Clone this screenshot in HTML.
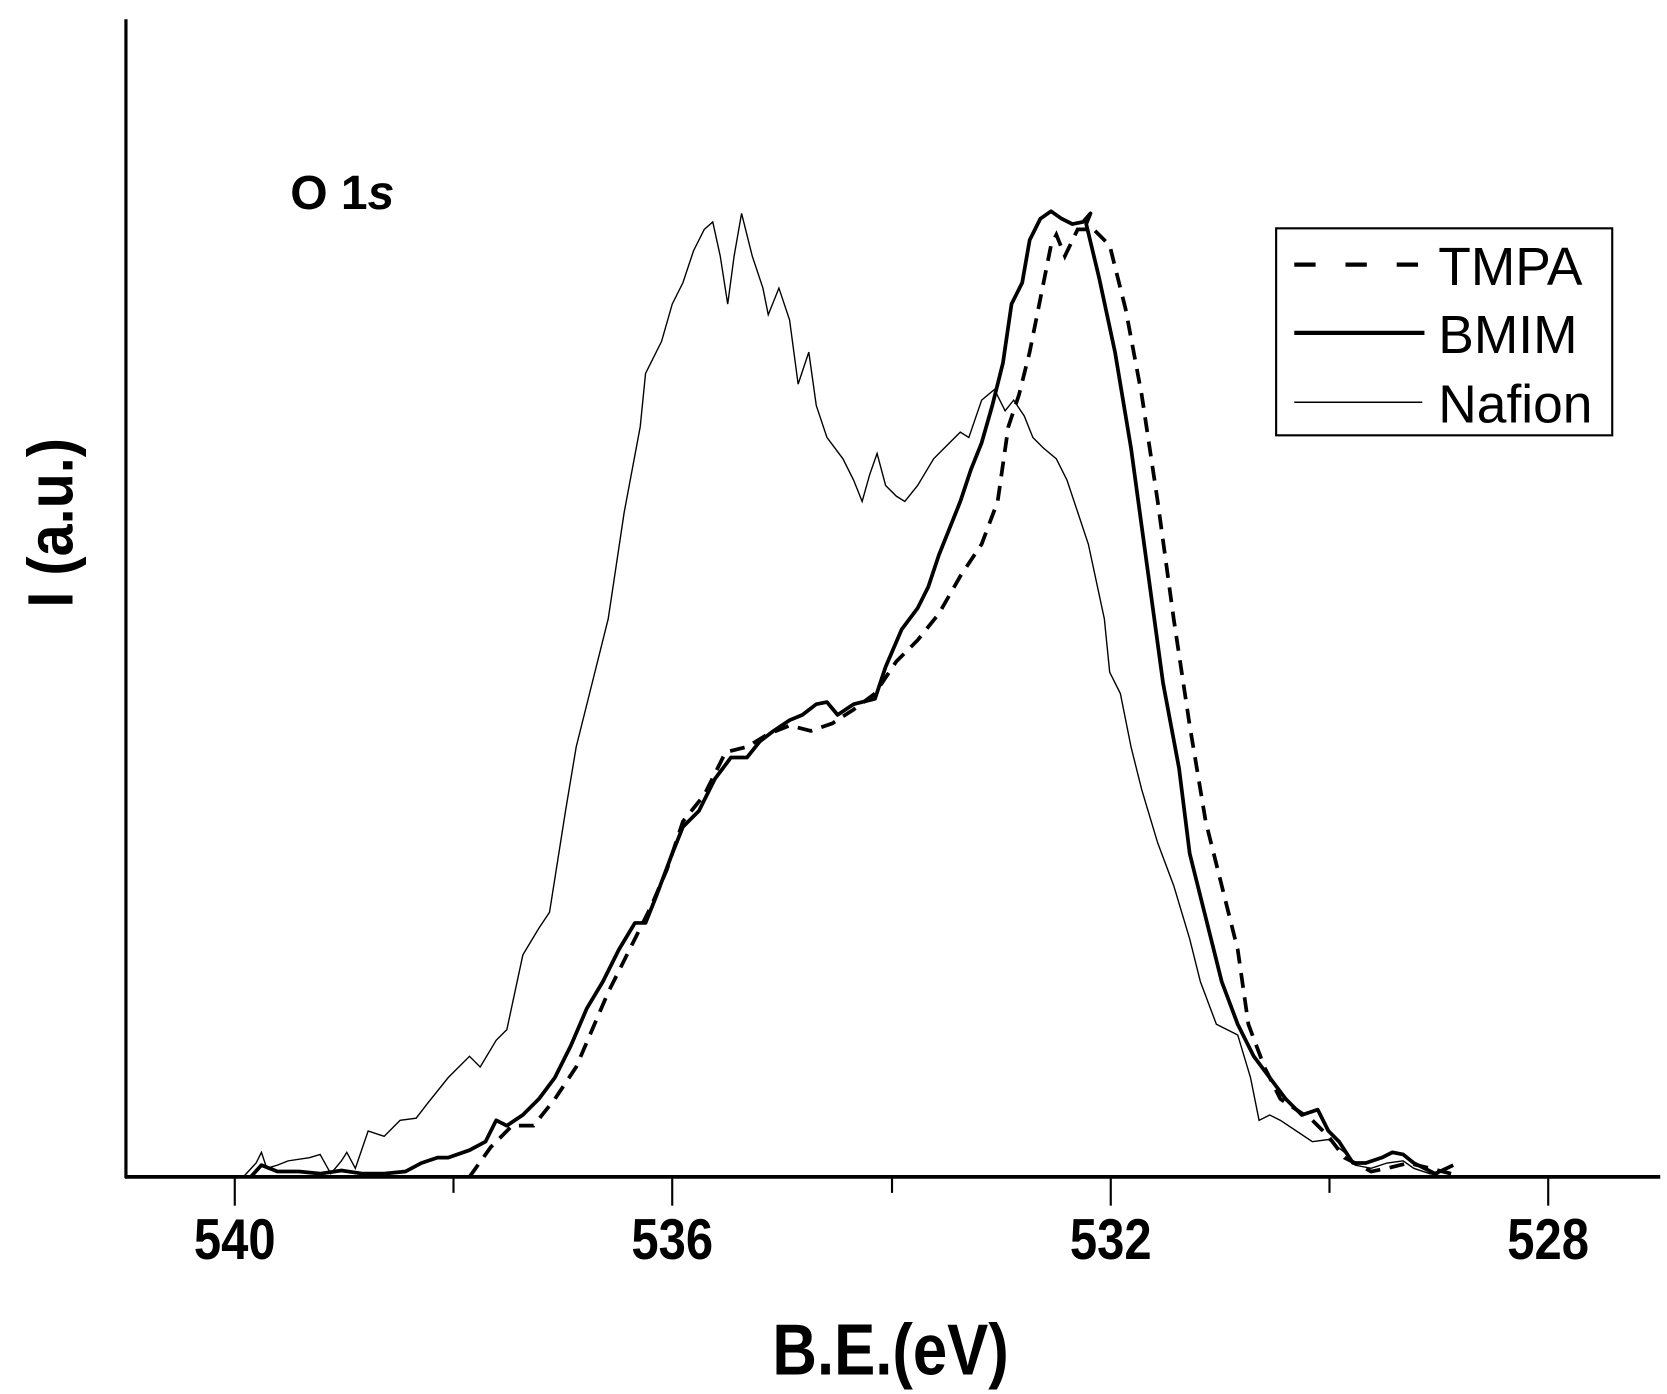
<!DOCTYPE html>
<html><head><meta charset="utf-8"><style>html,body{margin:0;padding:0;background:#fff;}svg{display:block;}</style></head>
<body>
<svg width="1667" height="1394" viewBox="0 0 1562.3 1306.5" xmlns="http://www.w3.org/2000/svg" font-family="Liberation Sans, Arial, sans-serif">
<rect width="1562.3" height="1306.5" fill="#fff"/>
<!-- axes -->
<line x1="118" y1="18" x2="118" y2="1104" stroke="#000" stroke-width="3"/>
<line x1="117" y1="1103" x2="1556" y2="1103" stroke="#000" stroke-width="3.5"/>
<g stroke="#000" stroke-width="2">
<line x1="220" y1="1103" x2="220" y2="1130"/><line x1="425" y1="1103" x2="425" y2="1118"/>
<line x1="630" y1="1103" x2="630" y2="1130"/><line x1="836" y1="1103" x2="836" y2="1118"/>
<line x1="1041" y1="1103" x2="1041" y2="1130"/><line x1="1246" y1="1103" x2="1246" y2="1118"/>
<line x1="1451" y1="1103" x2="1451" y2="1130"/>
</g>
<g font-size="54" font-weight="bold" text-anchor="middle" transform="scale(0.85,1)">
<text x="258.8" y="1180">540</text><text x="741.2" y="1180">536</text><text x="1224.7" y="1180">532</text><text x="1707" y="1180">528</text>
<text x="982" y="1288" font-size="68">B.E.(eV)</text>
</g>
<text transform="translate(68,490) rotate(-90) scale(0.9,1)" font-size="60" font-weight="bold" text-anchor="middle">I (a.u.)</text>
<text x="272" y="196" font-size="45" font-weight="bold">O 1<tspan font-style="italic">s</tspan></text>
<!-- legend -->
<rect x="1196" y="214" width="315" height="194" fill="none" stroke="#000" stroke-width="2"/>
<line x1="1213" y1="248" x2="1333" y2="248" stroke="#000" stroke-width="4" stroke-dasharray="20,28"/>
<line x1="1213" y1="312" x2="1335" y2="312" stroke="#000" stroke-width="4"/>
<line x1="1213" y1="377" x2="1333" y2="377" stroke="#000" stroke-width="1.5"/>
<g font-size="50"><text x="1348" y="267">TMPA</text><text x="1348" y="331">BMIM</text><text x="1348" y="396">Nafion</text></g>
<!-- Nafion -->
<polyline fill="none" stroke="#000" stroke-width="1.3" points="228,1103 240,1090 245,1080 250,1095 260,1092 270,1088 290,1085 300,1082 310,1100 320,1088 325,1080 333,1095 345,1060 360,1065 375,1050 390,1048 400,1035 420,1010 440,990 450,1000 465,975 475,965 490,895 505,870 515,855 530,760 540,700 555,640 570,580 585,480 600,400 605,350 620,320 630,285 640,265 650,235 660,215 668,208 675,240 682,285 688,240 695,200 705,240 715,270 720,295 730,270 740,300 748,360 758,330 765,380 775,410 790,430 800,450 808,470 815,445 822,425 830,455 840,465 848,470 860,455 875,430 890,415 900,405 908,410 920,375 932,365 942,385 950,375 960,390 968,410 978,420 990,430 1000,450 1010,480 1020,510 1035,580 1040,630 1050,650 1060,700 1070,740 1085,790 1100,830 1115,880 1125,920 1140,960 1160,970 1172,1010 1180,1050 1190,1045 1200,1050 1215,1060 1230,1070 1245,1068 1260,1080 1270,1092 1285,1095 1300,1090 1315,1088 1325,1095 1340,1100 1355,1103"/>
<!-- BMIM -->
<polyline fill="none" stroke="#000" stroke-width="3.5" stroke-linejoin="round" points="235,1103 245,1092 260,1098 280,1098 300,1100 320,1097 340,1100 360,1100 380,1098 395,1090 410,1085 420,1085 440,1078 455,1070 465,1050 475,1055 490,1045 505,1030 520,1010 535,980 550,945 565,920 580,890 595,865 605,865 615,840 630,800 640,775 655,760 670,730 685,710 700,710 712,695 725,685 740,675 752,670 765,660 775,658 785,670 800,660 820,655 830,625 845,590 860,570 870,550 880,520 890,495 900,470 910,440 920,415 930,380 940,340 948,285 958,265 965,225 975,205 985,198 995,205 1005,210 1015,208 1022,200 1018,210 1030,260 1045,330 1060,420 1075,530 1090,640 1105,720 1115,800 1130,860 1145,920 1160,960 1175,990 1190,1010 1205,1030 1220,1045 1235,1040 1245,1060 1255,1070 1268,1090 1280,1090 1295,1085 1305,1080 1315,1082 1325,1090 1335,1095 1345,1100 1362,1092"/>
<!-- TMPA -->
<polyline fill="none" stroke="#000" stroke-width="3.5" stroke-dasharray="14,9" points="440,1103 460,1075 480,1055 500,1055 520,1030 540,1000 555,965 570,930 590,890 610,850 625,815 640,770 660,745 680,705 700,700 720,688 740,680 760,685 780,678 800,665 820,650 840,620 860,600 880,575 900,540 920,510 935,470 945,400 955,370 965,330 975,280 985,230 990,220 998,240 1010,215 1025,215 1040,230 1055,290 1070,370 1085,470 1100,580 1115,680 1130,770 1145,830 1160,890 1170,960 1185,1000 1200,1030 1215,1040 1230,1050 1245,1065 1260,1085 1270,1090 1285,1098 1300,1095 1320,1090 1340,1095 1360,1100"/>
</svg>
</body></html>
